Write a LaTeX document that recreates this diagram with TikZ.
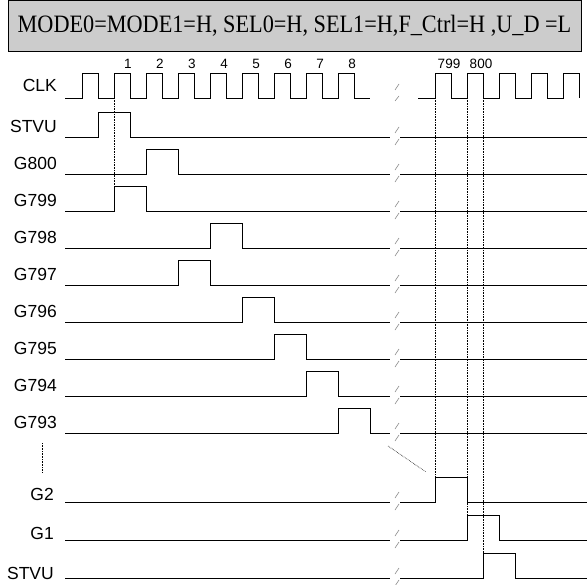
\documentclass[tikz,border=0pt]{standalone}
\usepackage{fontspec}
\setmainfont{Liberation Serif}
\setsansfont{Liberation Sans}

% break mark on a signal line
\newcommand{\brkmark}[1]{\draw[brk] (395,#1-4) -- (399,#1-10) (395,#1+8) -- (399,#1+2);}

\begin{document}
\begin{tikzpicture}[x=1pt, y=-1pt, line join=miter,
    sig/.style={line width=0.9pt, black},
    brk/.style={line width=0.6pt, black!45},
    guide/.style={line width=0.6pt, densely dotted},
    lbl/.style={anchor=east, inner sep=0pt, font=\sffamily\fontsize{17.5}{17.5}\selectfont},
    num/.style={inner sep=0pt, font=\sffamily\fontsize{13.5}{13.5}\selectfont}]
    \useasboundingbox (0,0) rectangle (588,584);

    % Variables for easy adjustment
    \def\xa{65}   % left start of lines
    \def\xb{390}  % left end
    \def\xc{400}  % right start
    \def\xd{587}  % right end
    \def\h{25}    % pulse height
    \def\w{32}    % pulse width

    % Title box
    \node[draw=black, line width=0.8pt, fill=black!20, minimum width=573pt, minimum height=50.5pt, inner sep=0pt]
        (title) at (294.5,25.75) {\fontsize{25}{25}\selectfont\scalebox{0.89}[1]{MODE0=MODE1=H, SEL0=H, SEL1=H,F\_Ctrl=H ,U\_D =L}};

    % Clock
    \node[lbl] (clk) at (57,85) {CLK};
    \draw[sig] (\xa,98) -- (82,98)
        foreach \k in {0,...,8} { -- ++(0,-\h) -- ++(16,0) -- ++(0,\h) -- ++(16,0) };
    \draw[sig] (418,98) -- (435,98)
        foreach \k in {1,...,4} { -- ++(0,-\h) -- ++(16,0) -- ++(0,\h) -- ++(16,0) }
        -- ++(0,-\h) -- ++(16,0) -- ++(0,\h);
    \draw[brk] (395,90) -- (399,84) (395,101) -- (399,96);
    \foreach \n in {1,...,8}
        \node[num] (c\n) at ({128+32*(\n-1)},64) {\n};
    \node[num] (c799) at (449,64) {799};
    \node[num] (c800) at (481,64) {800};

    % Upper rows (pulse on the left part)
    \foreach \lab/\y/\px [count=\i] in {STVU/137/98, G800/174/146, G799/211/114, G798/248/210,
        G797/285/178, G796/322/242, G795/359/274, G794/396/306, G793/433/338} {
        \node[lbl] (row\i) at (57,\y-11) {\lab};
        \draw[sig] (\xa,\y) -- (\px,\y) -- ++(0,-\h) -- ++(\w,0) -- ++(0,\h) -- (\xb,\y);
        \draw[sig] (\xc,\y) -- (\xd,\y);
        \brkmark{\y}
    }

    % Lower rows (pulse on the right part)
    \foreach \lab/\y/\px/\ly [count=\i] in {G2/502/435/494, G1/540/467/533, STVU/578/483/573} {
        \node[lbl] (low\i) at (54,\ly) {\lab};
        \draw[sig] (\xa,\y) -- (\xb,\y);
        \draw[sig] (\xc,\y) -- (\px,\y) -- ++(0,-\h) -- ++(\w,0) -- ++(0,\h) -- (\xd,\y);
        \brkmark{\y}
    }

    % Dotted guides
    \draw[guide] (114,98) -- (114,211);
    \draw[guide] (435,98) -- (435,477);
    \draw[guide] (467,98) -- (467,515);
    \draw[guide] (483,98) -- (483,553);

    % Ellipsis
    \draw[guide] (42,443) -- (42,472);
    \draw[guide] (388,446) -- (426,472);

\end{tikzpicture}
\end{document}
